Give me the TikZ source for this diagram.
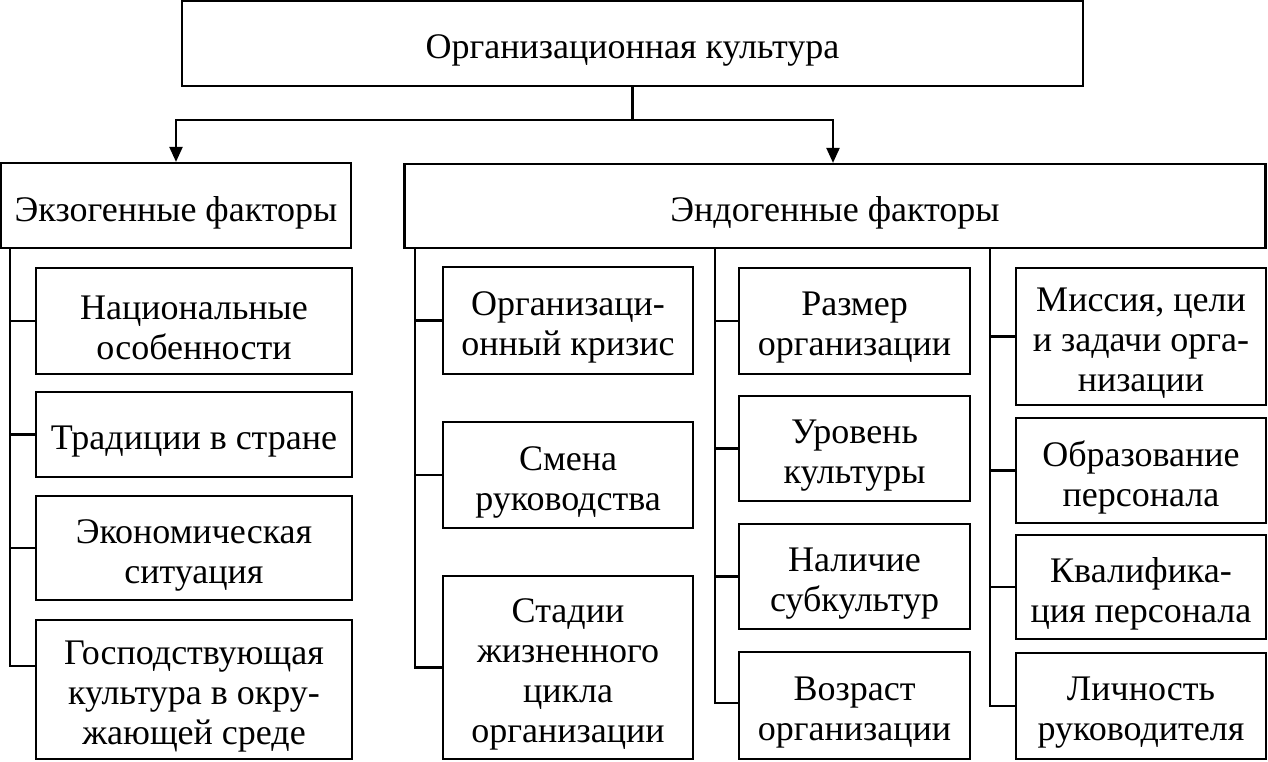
\documentclass[tikz,border=0pt]{standalone}
\usepackage{fontspec}
\setmainfont{Liberation Serif}
\usetikzlibrary{arrows.meta}
\begin{document}
\begin{tikzpicture}[x=1pt,y=-1pt,
  box/.style={draw, line width=2.2pt, rectangle, inner sep=0pt},
  lbl/.style={align=center, inner sep=0pt, yshift=-7pt,
    font=\fontsize{36}{40}\selectfont},
  conn/.style={line width=2.2pt},
  arr/.style={line width=2.2pt, -{Triangle[length=15pt,width=13pt]}}]
\useasboundingbox (0,0) rectangle (1268,761);
\fill[white] (0,0) rectangle (1268,761);

% top level
\node[box, minimum width=901pt, minimum height=85pt,
  label={[lbl]center:{Организационная культура}}] (top) at (632.5,43.5) {};
\node[box, minimum width=350pt, minimum height=85pt,
  label={[lbl]center:{Экзогенные факторы}}] (exo) at (176,205.5) {};
\node[box, minimum width=861pt, minimum height=84pt,
  label={[lbl]center:{Эндогенные факторы}}] (endo) at (835,206) {};

\coordinate (j) at ([yshift=-33pt]top.south);
\draw[conn] (top.south) -- (j);
\draw[arr] (j) -| (exo.north);
\draw[arr] (j) -| ([xshift=-2pt]endo.north);

% exogenous column
\node[box, minimum width=316pt, minimum height=106pt,
  label={[lbl]center:{Национальные\\особенности}}] (E1) at (194,321) {};
\node[box, minimum width=316pt, minimum height=85pt,
  label={[lbl]center:{Традиции в стране}}] (E2) at (194,434.5) {};
\node[box, minimum width=316pt, minimum height=104pt,
  label={[lbl]center:{Экономическая\\ситуация}}] (E3) at (194,548) {};
\node[box, minimum width=316pt, minimum height=139pt,
  label={[lbl]center:{Господствующая\\культура в окру-\\жающей среде}}] (E4) at (194,689.5) {};

\coordinate (tE) at (10,248);
\draw[conn] (tE) |- ([yshift=23.5pt]E4.west);
\draw[conn] (tE |- E1.west) -- (E1.west);
\draw[conn] (tE |- E2.west) -- (E2.west);
\draw[conn] (tE |- E3.west) -- (E3.west);

% endogenous column A
\node[box, minimum width=250pt, minimum height=107pt,
  label={[lbl]center:{Организаци-\\онный кризис}}] (A1) at (568,320.5) {};
\node[box, minimum width=250pt, minimum height=106pt,
  label={[lbl]center:{Смена\\руководства}}] (A2) at (568,475) {};
\node[box, minimum width=250pt, minimum height=183pt,
  label={[lbl]center:{Стадии\\жизненного\\цикла\\организации}}] (A3) at (568,667.5) {};

\coordinate (tA) at (415,248);
\draw[conn] (tA) |- (A3.west);
\draw[conn] (tA |- A1.west) -- (A1.west);
\draw[conn] (tA |- A2.west) -- (A2.west);

% endogenous column B
\node[box, minimum width=231pt, minimum height=106pt,
  label={[lbl]center:{Размер\\организации}}] (B1) at (854.5,321) {};
\node[box, minimum width=231pt, minimum height=105pt,
  label={[lbl]center:{Уровень\\культуры}}] (B2) at (854.5,448.5) {};
\node[box, minimum width=231pt, minimum height=105pt,
  label={[lbl]center:{Наличие\\субкультур}}] (B3) at (854.5,576.5) {};
\node[box, minimum width=231pt, minimum height=107pt,
  label={[lbl]center:{Возраст\\организации}}] (B4) at (854.5,705.5) {};

\coordinate (tB) at (715,248);
\draw[conn] (tB) |- ([yshift=2.5pt]B4.west);
\draw[conn] (tB |- B1.west) -- (B1.west);
\draw[conn] (tB |- B2.west) -- (B2.west);
\draw[conn] (tB |- B3.west) -- (B3.west);

% endogenous column C
\node[box, minimum width=250pt, minimum height=137pt,
  label={[lbl]center:{Миссия, цели\\и задачи орга-\\низации}}] (C1) at (1141,336.5) {};
\node[box, minimum width=250pt, minimum height=105pt,
  label={[lbl]center:{Образование\\персонала}}] (C2) at (1141,470.5) {};
\node[box, minimum width=250pt, minimum height=104pt,
  label={[lbl]center:{Квалифика-\\ция персонала}}] (C3) at (1141,587) {};
\node[box, minimum width=250pt, minimum height=106pt,
  label={[lbl]center:{Личность\\руководителя}}] (C4) at (1141,706) {};

\coordinate (tC) at (990,248);
\draw[conn] (tC) |- (C4.west);
\draw[conn] (tC |- C1.west) -- (C1.west);
\draw[conn] (tC |- C2.west) -- (C2.west);
\draw[conn] (tC |- C3.west) -- (C3.west);
\end{tikzpicture}
\end{document}
